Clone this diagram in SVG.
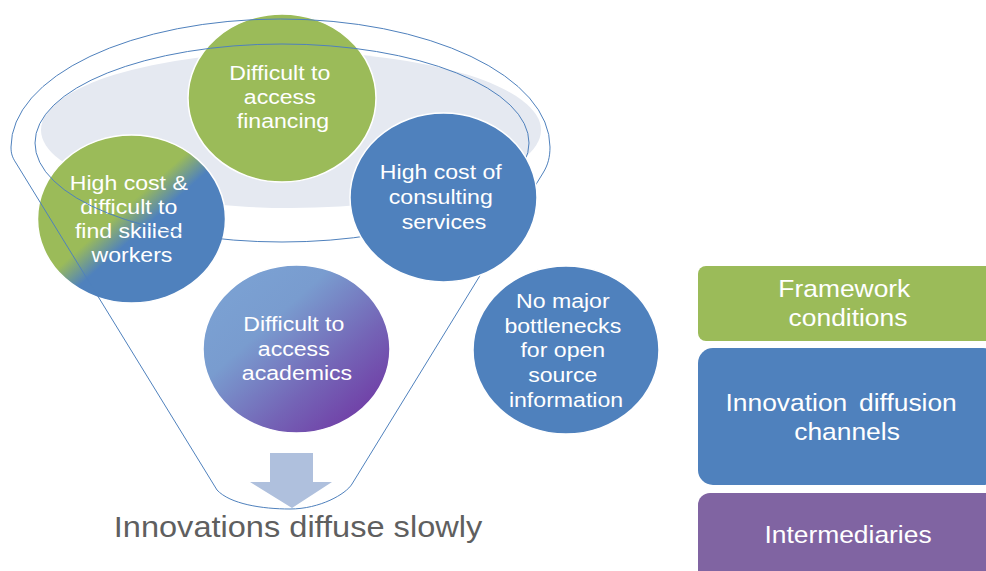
<svg xmlns="http://www.w3.org/2000/svg" width="986" height="571" viewBox="0 0 986 571">
  <style>
    .ct { font-family: "Liberation Sans", Arial, sans-serif; font-size: 21px; fill: #ffffff; text-anchor: middle; }
    .lt { font-family: "Liberation Sans", Arial, sans-serif; font-size: 24px; fill: #ffffff; text-anchor: middle; }
    .bt { font-family: "Liberation Sans", Arial, sans-serif; font-size: 30px; fill: #5f5f5f; text-anchor: middle; }
    .circ { stroke: #ffffff; stroke-width: 1.5; }
    .fl { fill: none; stroke: #4f81bd; stroke-width: 1; }
  </style>
  <defs>
    <linearGradient id="gGreenBlue" x1="0" y1="0" x2="1" y2="1">
      <stop offset="0" stop-color="#9bbb59"/>
      <stop offset="0.45" stop-color="#9bbb59"/>
      <stop offset="0.56" stop-color="#4f81bd"/>
      <stop offset="1" stop-color="#4f81bd"/>
    </linearGradient>
    <linearGradient id="gBluePurple" x1="0" y1="0" x2="1" y2="1">
      <stop offset="0" stop-color="#7ca4d5"/>
      <stop offset="0.35" stop-color="#799ccf"/>
      <stop offset="0.65" stop-color="#7464b6"/>
      <stop offset="1" stop-color="#6f2a9e"/>
    </linearGradient>
  </defs>
  <rect width="986" height="571" fill="#ffffff"/>

  <!-- funnel opening fill -->
  <ellipse cx="291" cy="130" rx="250" ry="78" fill="#e5e9f1"/>

  <g id="node-financing">
    <ellipse class="circ" cx="282" cy="98" rx="94" ry="84" fill="#9bbb59"/>
    <text class="ct" transform="translate(283,0) scale(1.1,1)">
      <tspan x="0" y="80">Difficult to</tspan>
      <tspan x="0" y="104">access</tspan>
      <tspan x="0" y="128">financing</tspan>
    </text>
  </g>

  <g id="node-skilled-workers">
    <ellipse class="circ" cx="131.5" cy="219" rx="94" ry="84" fill="url(#gGreenBlue)"/>
    <text class="ct" transform="translate(132,0) scale(1.1,1)">
      <tspan x="0" y="190">High cost &amp;</tspan>
      <tspan x="0" y="214">difficult to</tspan>
      <tspan x="0" y="238">find skilled</tspan>
      <tspan x="0" y="262">workers</tspan>
    </text>
  </g>

  <g id="funnel">
    <ellipse class="fl" cx="282" cy="143" rx="247" ry="99"/>
    <path class="fl" d="M 11,147 A 269.5,128 0 0 1 550,147 C 550,157 548,165 543,173 L 352,484 C 346,494 320,509 290,509 C 262,509 230,504 217,490 L 16,163 C 12,157 11,153 11,147 Z"/>
  </g>

  <g id="node-consulting">
    <ellipse class="circ" cx="443.5" cy="197.5" rx="93.5" ry="84.5" fill="#4f81bd"/>
    <text class="ct" transform="translate(444,0) scale(1.1,1)">
      <tspan x="0" y="179">High cost of</tspan>
      <tspan x="0" y="204">consulting</tspan>
      <tspan x="0" y="229">services</tspan>
    </text>
  </g>

  <g id="node-academics">
    <ellipse class="circ" cx="296.5" cy="349" rx="93.5" ry="84" fill="url(#gBluePurple)"/>
    <text class="ct" transform="translate(297,0) scale(1.1,1)">
      <tspan x="0" y="331.5">Difficult to</tspan>
      <tspan x="0" y="356">access</tspan>
      <tspan x="0" y="380.5">academics</tspan>
    </text>
  </g>

  <g id="node-open-source">
    <ellipse class="circ" cx="566" cy="350" rx="93" ry="84" fill="#4f81bd"/>
    <text class="ct" transform="translate(566,0) scale(1.1,1)">
      <tspan x="0" y="308">No major</tspan>
      <tspan x="0" y="333">bottlenecks</tspan>
      <tspan x="0" y="357">for open</tspan>
      <tspan x="0" y="382">source</tspan>
      <tspan x="0" y="407">information</tspan>
    </text>
  </g>

  <g id="connectors">
    <path d="M 270,453 L 313,453 L 313,482 L 332,482 L 292,508 L 250,482 L 270,482 Z" fill="#afc0dd"/>
  </g>

  <g id="node-result">
    <text class="bt" transform="translate(298,0) scale(1.085,1)" x="0" y="537">Innovations diffuse slowly</text>
  </g>

  <g id="legend-framework">
    <rect x="698" y="266" width="300" height="75" rx="8" ry="8" fill="#9bbb59"/>
    <text class="lt" transform="translate(848,0) scale(1.1,1)">
      <tspan x="0" y="297">Framework</tspan>
      <tspan x="0" y="326">conditions</tspan>
    </text>
  </g>

  <g id="legend-channels">
    <rect x="698" y="348" width="300" height="137" rx="15" ry="15" fill="#4f81bd"/>
    <text class="lt" transform="translate(847,0) scale(1.1,1)" style="word-spacing:4px">
      <tspan x="0" y="411">Innovation diffusion</tspan>
      <tspan x="0" y="440">channels</tspan>
    </text>
  </g>

  <g id="legend-intermediaries">
    <rect x="698" y="493" width="300" height="95" rx="12" ry="12" fill="#8064a2"/>
    <text class="lt" transform="translate(848,0) scale(1.1,1)" x="0" y="543">Intermediaries</text>
  </g>
</svg>
